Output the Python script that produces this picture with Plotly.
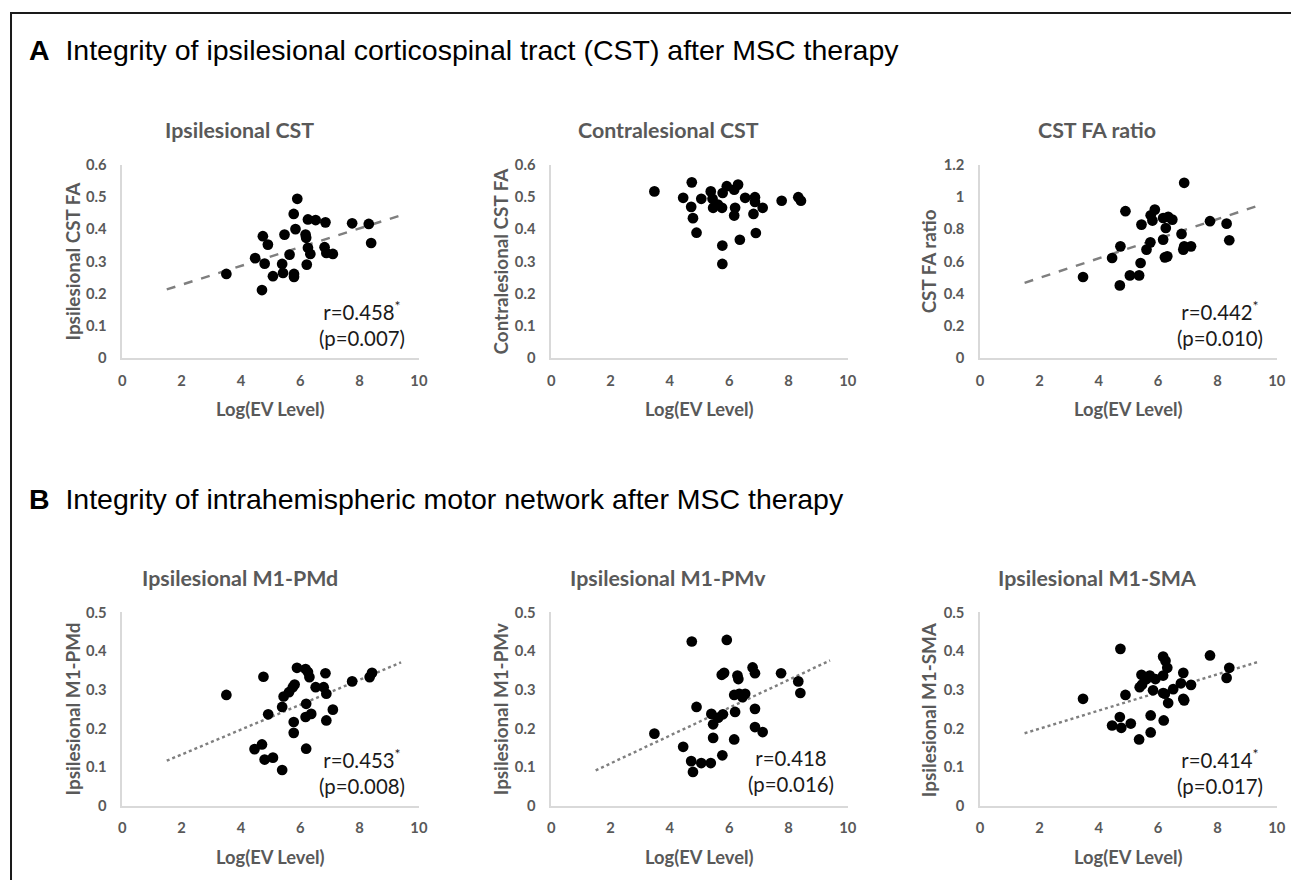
import plotly.graph_objects as go

W, H = 1291, 880

# ---------------- data ----------------
ips_cst_x = [3.51, 4.48, 4.74, 4.91, 4.80, 4.71, 5.08, 5.39, 5.42, 5.47, 5.64, 5.78, 5.79, 5.79, 5.84,
             5.90, 6.18, 6.20, 6.26, 6.34, 6.22, 6.26, 6.52, 6.85, 6.82, 6.88, 7.10, 7.75, 8.31, 8.39]
ips_cst_y = [0.261, 0.310, 0.378, 0.352, 0.293, 0.211, 0.254, 0.292, 0.264, 0.383, 0.321, 0.447, 0.261, 0.252, 0.400,
             0.494, 0.383, 0.373, 0.342, 0.323, 0.290, 0.430, 0.428, 0.421, 0.344, 0.326, 0.323, 0.418, 0.416, 0.357]

con_cst_x = [3.48, 4.45, 4.74, 4.72, 4.78, 4.90, 5.06, 5.38, 5.44, 5.46, 5.62, 5.76, 5.78, 5.92, 5.77, 5.77,
             6.17, 6.30, 6.20, 6.17, 6.36, 6.54, 6.87, 6.87, 6.82, 6.90, 7.13, 7.77, 8.33, 8.42]
con_cst_y = [0.517, 0.497, 0.545, 0.469, 0.434, 0.389, 0.494, 0.517, 0.494, 0.466, 0.476, 0.466, 0.512, 0.533, 0.349, 0.292,
             0.522, 0.538, 0.466, 0.442, 0.367, 0.497, 0.499, 0.484, 0.447, 0.388, 0.466, 0.488, 0.499, 0.488]

ratio_x = [3.47, 4.45, 4.71, 4.73, 4.90, 5.05, 5.36, 5.41, 5.44, 5.61, 5.74, 5.75, 5.81, 5.89, 6.17, 6.23, 6.31,
           6.17, 6.26, 6.34, 6.48, 6.79, 6.85, 6.88, 6.88, 7.11, 7.75, 8.31, 8.40]
ratio_y = [0.503, 0.621, 0.451, 0.693, 0.911, 0.513, 0.513, 0.590, 0.828, 0.673, 0.718, 0.886, 0.853, 0.921, 0.735, 0.625, 0.631,
           0.869, 0.807, 0.876, 0.859, 0.770, 0.673, 0.693, 1.087, 0.693, 0.849, 0.834, 0.731]

pmd_x = [3.51, 4.46, 4.71, 4.80, 5.08, 4.76, 4.92, 5.39, 5.39, 5.44, 5.62, 5.75, 5.81, 5.78, 5.78, 5.89,
         6.18, 6.26, 6.31, 6.20, 6.18, 6.37, 6.20, 6.52, 6.79, 6.85, 6.88, 6.88, 7.10, 7.75, 8.34, 8.42]
pmd_y = [0.287, 0.147, 0.159, 0.120, 0.125, 0.334, 0.237, 0.093, 0.256, 0.283, 0.294, 0.307, 0.314, 0.217, 0.189, 0.357,
         0.354, 0.346, 0.333, 0.264, 0.230, 0.238, 0.148, 0.307, 0.307, 0.343, 0.290, 0.221, 0.249, 0.322, 0.333, 0.344]

pmv_x = [3.48, 4.45, 4.72, 4.78, 4.74, 4.90, 5.06, 5.38, 5.40, 5.46, 5.46, 5.63, 5.77, 5.75, 5.83, 5.79, 5.92,
         6.17, 6.20, 6.17, 6.28, 6.31, 6.34, 6.45, 6.54, 6.79, 6.87, 6.87, 6.87, 7.13, 7.75, 8.33, 8.40]
pmv_y = [0.187, 0.153, 0.116, 0.088, 0.425, 0.256, 0.111, 0.111, 0.238, 0.211, 0.176, 0.228, 0.131, 0.339, 0.344, 0.237, 0.429,
         0.287, 0.243, 0.172, 0.337, 0.328, 0.290, 0.281, 0.290, 0.358, 0.343, 0.251, 0.204, 0.191, 0.343, 0.322, 0.292]

sma_x = [3.47, 4.45, 4.71, 4.76, 4.73, 4.90, 5.08, 5.36, 5.38, 5.44, 5.46, 5.61, 5.72, 5.75, 5.75, 5.83, 5.91,
         6.17, 6.17, 6.17, 6.25, 6.31, 6.23, 6.19, 6.34, 6.51, 6.77, 6.85, 6.85, 6.88, 7.11, 7.75, 8.31, 8.40]
sma_y = [0.277, 0.208, 0.230, 0.202, 0.406, 0.287, 0.213, 0.172, 0.307, 0.339, 0.314, 0.328, 0.337, 0.234, 0.190, 0.299, 0.328,
         0.292, 0.337, 0.386, 0.375, 0.357, 0.290, 0.221, 0.266, 0.302, 0.317, 0.344, 0.277, 0.273, 0.313, 0.389, 0.331, 0.357]

trend_x = [1.5, 9.4]
trend_ips_cst = [0.213, 0.443]
trend_ratio = [0.467, 0.947]
trend_pmd = [0.117, 0.371]
trend_pmv = [0.092, 0.376]
trend_sma = [0.188, 0.373]

panel_titles = ["Ipsilesional CST", "Contralesional CST", "CST FA ratio",
                "Ipsilesional M1-PMd", "Ipsilesional M1-PMv", "Ipsilesional M1-SMA"]
y_titles = ["Ipsilesional CST FA", "Contralesional CST FA", "CST FA ratio",
            "Ipsilesional M1-PMd", "Ipsilesional M1-PMv", "Ipsilesional M1-SMA"]
x_title = "Log(EV Level)"
stats_text = ["r=0.458<sup>*</sup><br>(p=0.007)", None, "r=0.442<sup>*</sup><br>(p=0.010)",
              "r=0.453<sup>*</sup><br>(p=0.008)", "r=0.418<br>(p=0.016)", "r=0.414<sup>*</sup><br>(p=0.017)"]
y_max = [0.6, 0.6, 1.2, 0.5, 0.5, 0.5]
y_dtick = [0.1, 0.1, 0.2, 0.1, 0.1, 0.1]
header_a = "<b>A</b>  Integrity of ipsilesional corticospinal tract (CST) after MSC therapy"
header_b = "<b>B</b>  Integrity of intrahemispheric motor network after MSC therapy"

points = [(ips_cst_x, ips_cst_y), (con_cst_x, con_cst_y), (ratio_x, ratio_y),
          (pmd_x, pmd_y), (pmv_x, pmv_y), (sma_x, sma_y)]
trends = [(trend_ips_cst, "dash"), None, (trend_ratio, "dash"),
          (trend_pmd, "dot"), (trend_pmv, "dot"), (trend_sma, "dot")]

# ---------------- layout geometry (target pixels) ----------------
col_px = [(123, 419), (551, 847), (979, 1275)]
row_px = [(163, 357), (612, 806)]
ytitle_px = [73, 500, 927]

# compensation for the page framing observed when the page is photographed
SX, OX = 0.9878, 5.0
SY, OY = 0.982, 8.0

def px(xp):
    return ((xp - OX) / SX) / W

def py(yp):
    return 1 - ((yp - OY) / SY) / H

def fs(v):
    return v / SY

GREY = "#595959"
FONT = "Lato"

fig = go.Figure()
annotations = []

for i in range(6):
    r, c = divmod(i, 3)
    n = i + 1
    xa = "x" if n == 1 else f"x{n}"
    ya = "y" if n == 1 else f"y{n}"
    x0, x1 = col_px[c]
    ytop, ybot = row_px[r]

    tr = trends[i]
    if tr is not None:
        fig.add_trace(go.Scatter(x=trend_x, y=tr[0], mode="lines", xaxis=xa, yaxis=ya,
                                 line=dict(color="#7f7f7f", width=fs(2.4), dash=tr[1]),
                                 showlegend=False, hoverinfo="skip"))
    fig.add_trace(go.Scatter(x=points[i][0], y=points[i][1], mode="markers", xaxis=xa, yaxis=ya,
                             marker=dict(color="black", size=fs(10.5)), showlegend=False))

    axis_common = dict(showgrid=False, zeroline=False, showline=True, linecolor="#d9d9d9",
                       linewidth=1.5, ticks="",
                       tickfont=dict(family=FONT, size=fs(14.5), color=GREY, weight="bold"),
                       fixedrange=True)
    fig.layout[("xaxis" if n == 1 else f"xaxis{n}")] = dict(
        axis_common, domain=[px(x0), px(x1)], range=[0, 10], dtick=2, tick0=0,
        anchor=ya, ticklabelstandoff=8)
    fig.layout[("yaxis" if n == 1 else f"yaxis{n}")] = dict(
        axis_common, domain=[py(ybot), py(ytop)], range=[0, y_max[i]], dtick=y_dtick[i], tick0=0,
        anchor=xa, ticklabelstandoff=11)

    cx = (x0 + x1) / 2
    annotations.append(dict(text=f"<b>{panel_titles[i]}</b>", x=px(cx - 31), y=py(ytop - 35),
                            xref="paper", yref="paper", showarrow=False, xanchor="center", yanchor="middle",
                            font=dict(family=FONT, size=fs(21), color=GREY)))
    annotations.append(dict(text=f"<b>{x_title}</b>", x=px(cx), y=py(ybot + 51),
                            xref="paper", yref="paper", showarrow=False, xanchor="center", yanchor="middle",
                            font=dict(family=FONT, size=fs(18), color=GREY)))
    annotations.append(dict(text=f"<b>{y_titles[i]}</b>", x=px(ytitle_px[c]), y=py((ytop + ybot) / 2),
                            xref="paper", yref="paper", showarrow=False, xanchor="center", yanchor="middle",
                            textangle=-90, font=dict(family=FONT, size=fs(18.5), color=GREY)))
    if stats_text[i]:
        annotations.append(dict(text=stats_text[i], x=px(x1 - 57), y=py(ybot - 35),
                                xref="paper", yref="paper", showarrow=False, xanchor="center", yanchor="middle",
                                align="center",
                                font=dict(family=FONT, size=fs(20), color="#1a1a1a")))

annotations.append(dict(text=header_a, x=px(28), y=py(48), xref="paper", yref="paper", showarrow=False,
                        xanchor="left", yanchor="middle",
                        font=dict(family="Liberation Sans, Arial", size=fs(28), color="black")))
annotations.append(dict(text=header_b, x=px(28), y=py(498), xref="paper", yref="paper", showarrow=False,
                        xanchor="left", yanchor="middle",
                        font=dict(family="Liberation Sans, Arial", size=fs(28), color="black")))

fig.update_layout(
    width=W, height=H, autosize=False,
    margin=dict(l=0, r=0, t=0, b=0, pad=0),
    paper_bgcolor="white", plot_bgcolor="white",
    annotations=annotations,
    shapes=[dict(type="rect", xref="paper", yref="paper", x0=px(12), x1=1.05, y0=-0.05, y1=py(11),
                 line=dict(color="#1a1a1a", width=2), fillcolor="rgba(0,0,0,0)", layer="below")],
    hovermode="closest",
)

fig.write_html("out.html", config={"displayModeBar": False},
               post_script="document.body.style.margin='0px';document.body.style.overflow='hidden';")
